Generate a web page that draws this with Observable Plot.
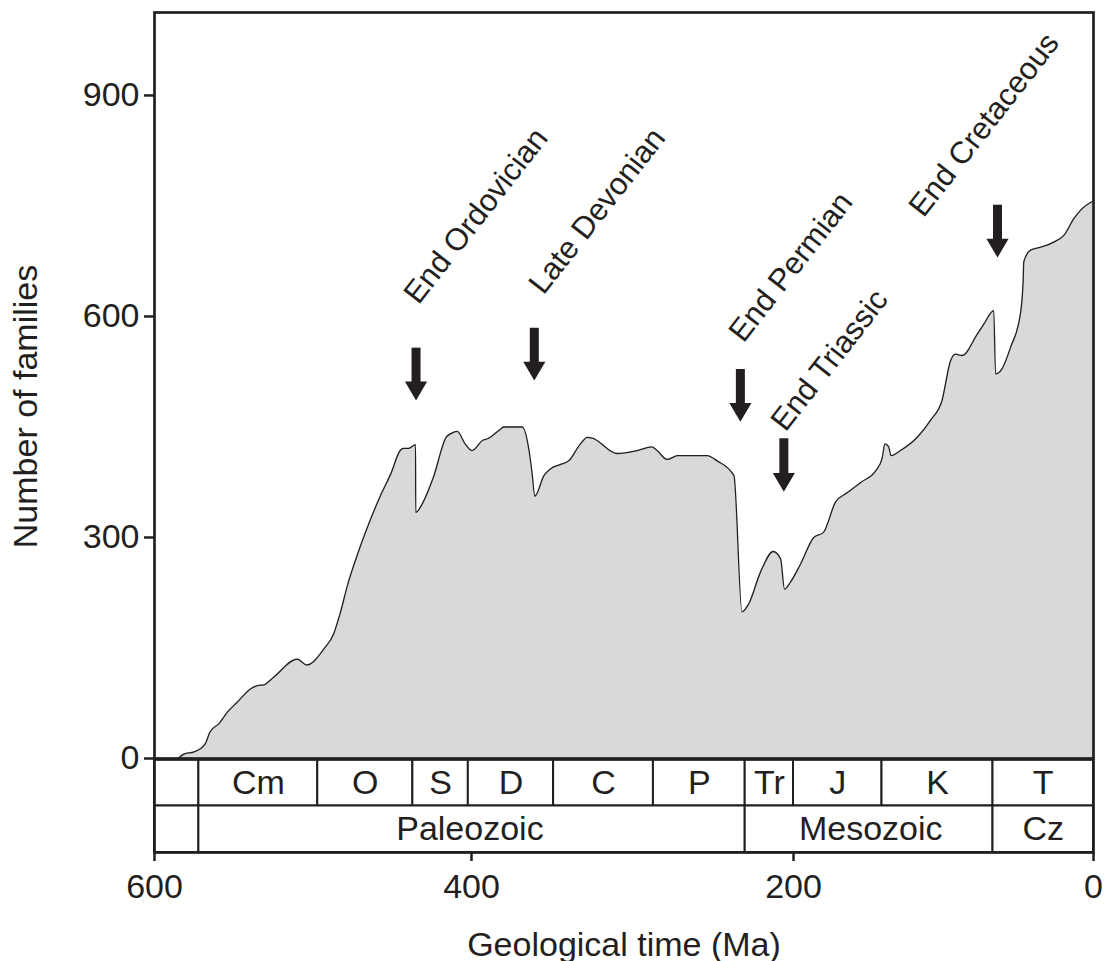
<!DOCTYPE html>
<html>
<head>
<meta charset="utf-8">
<script src="https://cdn.jsdelivr.net/npm/d3@7"></script>
<script src="https://cdn.jsdelivr.net/npm/@observablehq/plot@0.6"></script>
<style>
  html, body { margin: 0; padding: 0; background: #fff; }
  #chart svg { display: block; }
</style>
</head>
<body>
<div id="chart"></div>
<script>
// ---------- data ----------
// Diversity curve: age (Ma) and number of families
const ages = [585, 581.5, 575, 568, 565, 559, 554, 548, 539, 535, 531, 525, 510, 504, 493, 487, 483, 478, 474, 464,
  457, 451, 445, 443, 439.6, 435.3, 435.2, 431, 424, 416, 413, 409, 404, 399.6, 393, 390, 382, 380, 368.5, 364.4,
  362.3, 360.7, 355, 351, 345, 339.6, 333, 328, 325, 309.5, 297, 288, 284.7, 278.5, 272, 253.6, 247.4, 237, 232, 227.8,
  220.5, 212.6, 208, 205.6, 202, 195.3, 186.5, 180, 172, 164, 155, 145, 141, 139, 136.5, 135, 128.7, 117.5, 108.7, 101,
  95.3, 92, 87.5, 77.5, 73, 66.5, 65.3, 61, 55.3, 48.7, 46.9, 46.5, 42, 35.3, 26.5, 19.8, 13, 8.7, 0];
const families = [0, 6, 9, 20, 36, 48, 63, 76, 95, 99, 100, 110, 135, 127, 149, 169, 196, 237, 264, 323,
  359, 386, 418, 421, 421, 426, 334, 346, 382, 436, 441, 444, 427, 418, 432, 434, 447, 450, 450, 420,
  386, 356, 384, 393, 399, 404, 425, 436, 435, 414, 418, 423, 418, 406, 411, 411, 404, 384, 199, 210,
  253, 281, 271, 230, 239, 264, 300, 307, 348, 361, 375, 391, 407, 427, 423, 411, 418, 436, 459, 486,
  540, 549, 547, 576, 590, 608, 522, 529, 558, 604, 649, 674, 690, 694, 701, 710, 733, 744, 757];

// Geological periods (row 1) and eras (row 2)
const periodNames = ["", "Cm", "O", "S", "D", "C", "P", "Tr", "J", "K", "T"];
const periodStart = [600, 572, 497, 437, 402, 349, 287, 230, 200, 141, 67];
const periodEnd   = [572, 497, 437, 402, 349, 287, 230, 200, 141, 67, 0];
const eraNames = ["", "Paleozoic", "Mesozoic", "Cz"];
const eraStart = [600, 572, 230, 67];
const eraEnd   = [572, 230, 67, 0];

// Mass extinctions: arrow age, arrow tail/tip level, label anchor (age, level)
const eventNames = ["End Ordovician", "Late Devonian", "End Permian", "End Triassic", "End Cretaceous"];
const eventAges = [435, 361, 233, 206, 64];
const arrowTail = [557, 584, 528, 434, 751];
const arrowTip  = [486, 513, 457, 362, 680];
const labelAges = [433.4, 355.3, 231, 205, 113.3];
const labelLevels = [615, 628, 563, 442, 733];

// Axis ticks
const xTicks = [600, 400, 200, 0];
const yTicks = [0, 300, 600, 900];

// ---------- build tables ----------
const curve = ages.map((a, i) => ({age: a, n: families[i]}));
const cells = [
  ...periodNames.map((name, i) => ({name, start: periodStart[i], end: periodEnd[i], row: "period"})),
  ...eraNames.map((name, i) => ({name, start: eraStart[i], end: eraEnd[i], row: "era"}))
];
const events = eventNames.map((name, i) => ({
  name, age: eventAges[i], tail: arrowTail[i], tip: arrowTip[i],
  labelAge: labelAges[i], labelLevel: labelLevels[i]
}));

// ---------- styles ----------
const ink = "#231f20";
const areaFill = "#d9d9d9";
const font = "'Liberation Sans', Arial, Helvetica, sans-serif";
// The reference's time axis is drawn slightly unevenly (its 400 and 200 ticks
// sit a little right of a uniform spacing); reproduce it with a piecewise warp.
const timeWarp = d3.scaleLinear().domain([600, 400, 200, 0]).range([600, 397.44, 191.69, 0]);
const xScale = {domain: [600, 0], transform: (v) => timeWarp(v)};

const arrowHead = {
  draw(context, size) {
    const r = Math.sqrt(size / Math.PI);
    const w = 1.35 * r, h = 2.3 * r;
    context.moveTo(0, 0);
    context.lineTo(-w, -h);
    context.lineTo(w, -h);
    context.closePath();
  }
};

const mainChart = Plot.plot({
  width: 1113,
  height: 759,
  marginTop: 12,
  marginBottom: 1,
  marginLeft: 154,
  marginRight: 20,
  style: {fontFamily: font, color: ink, background: "transparent", overflow: "visible"},
  x: {...xScale, axis: null},
  y: {domain: [0, 1012.6], axis: null},
  marks: [
    Plot.areaY(curve, {x: "age", y: "n", fill: areaFill, curve: "monotone-x"}),
    Plot.lineY(curve, {x: "age", y: "n", stroke: ink, strokeWidth: 1.3, curve: "monotone-x"}),
    Plot.ruleX(events, {x: "age", y1: "tail", y2: "tip", stroke: ink, strokeWidth: 9, insetBottom: 12}),
    Plot.dot(events, {x: "age", y: "tip", symbol: arrowHead, r: 8.2, fill: ink, stroke: "none"}),
    Plot.text(events, {x: "labelAge", y: "labelLevel", text: "name", rotate: -52,
      textAnchor: "start", lineAnchor: "bottom", fontSize: 31, fill: ink}),
    Plot.axisY(yTicks, {tickSize: 10, tickPadding: 5, fontSize: 34, stroke: ink, strokeWidth: 2.5, label: null}),
    Plot.text(["Number of families"], {frameAnchor: "left", textAnchor: "middle", lineAnchor: "middle",
      rotate: -90, dx: -128, dy: 21, fontSize: 34, fill: ink}),
    Plot.frame({stroke: ink, strokeWidth: 2.7})
  ]
});

const timeScale = Plot.plot({
  width: 1113,
  height: 202,
  marginTop: 0,
  marginBottom: 109,
  marginLeft: 154,
  marginRight: 20,
  style: {fontFamily: font, color: ink, background: "transparent"},
  x: {...xScale},
  y: {type: "band", domain: ["period", "era"], padding: 0, round: false, axis: null},
  marks: [
    Plot.barX(cells, {x1: "start", x2: "end", y: "row", fill: "white", stroke: ink, strokeWidth: 2}),
    Plot.text(cells.filter(d => d.name), {x: d => (d.start + d.end) / 2, y: "row", text: "name",
      fontSize: 34, fill: ink}),
    Plot.frame({stroke: ink, strokeWidth: 2.7}),
    Plot.axisX(xTicks, {tickSize: 9, tickPadding: 12, fontSize: 34, stroke: ink, strokeWidth: 2.5, label: null}),
    Plot.text(["Geological time (Ma)"], {frameAnchor: "bottom", textAnchor: "middle", lineAnchor: "bottom",
      dy: 103, fontSize: 34, fill: ink})
  ]
});

document.getElementById("chart").append(mainChart, timeScale);
</script>
</body>
</html>
